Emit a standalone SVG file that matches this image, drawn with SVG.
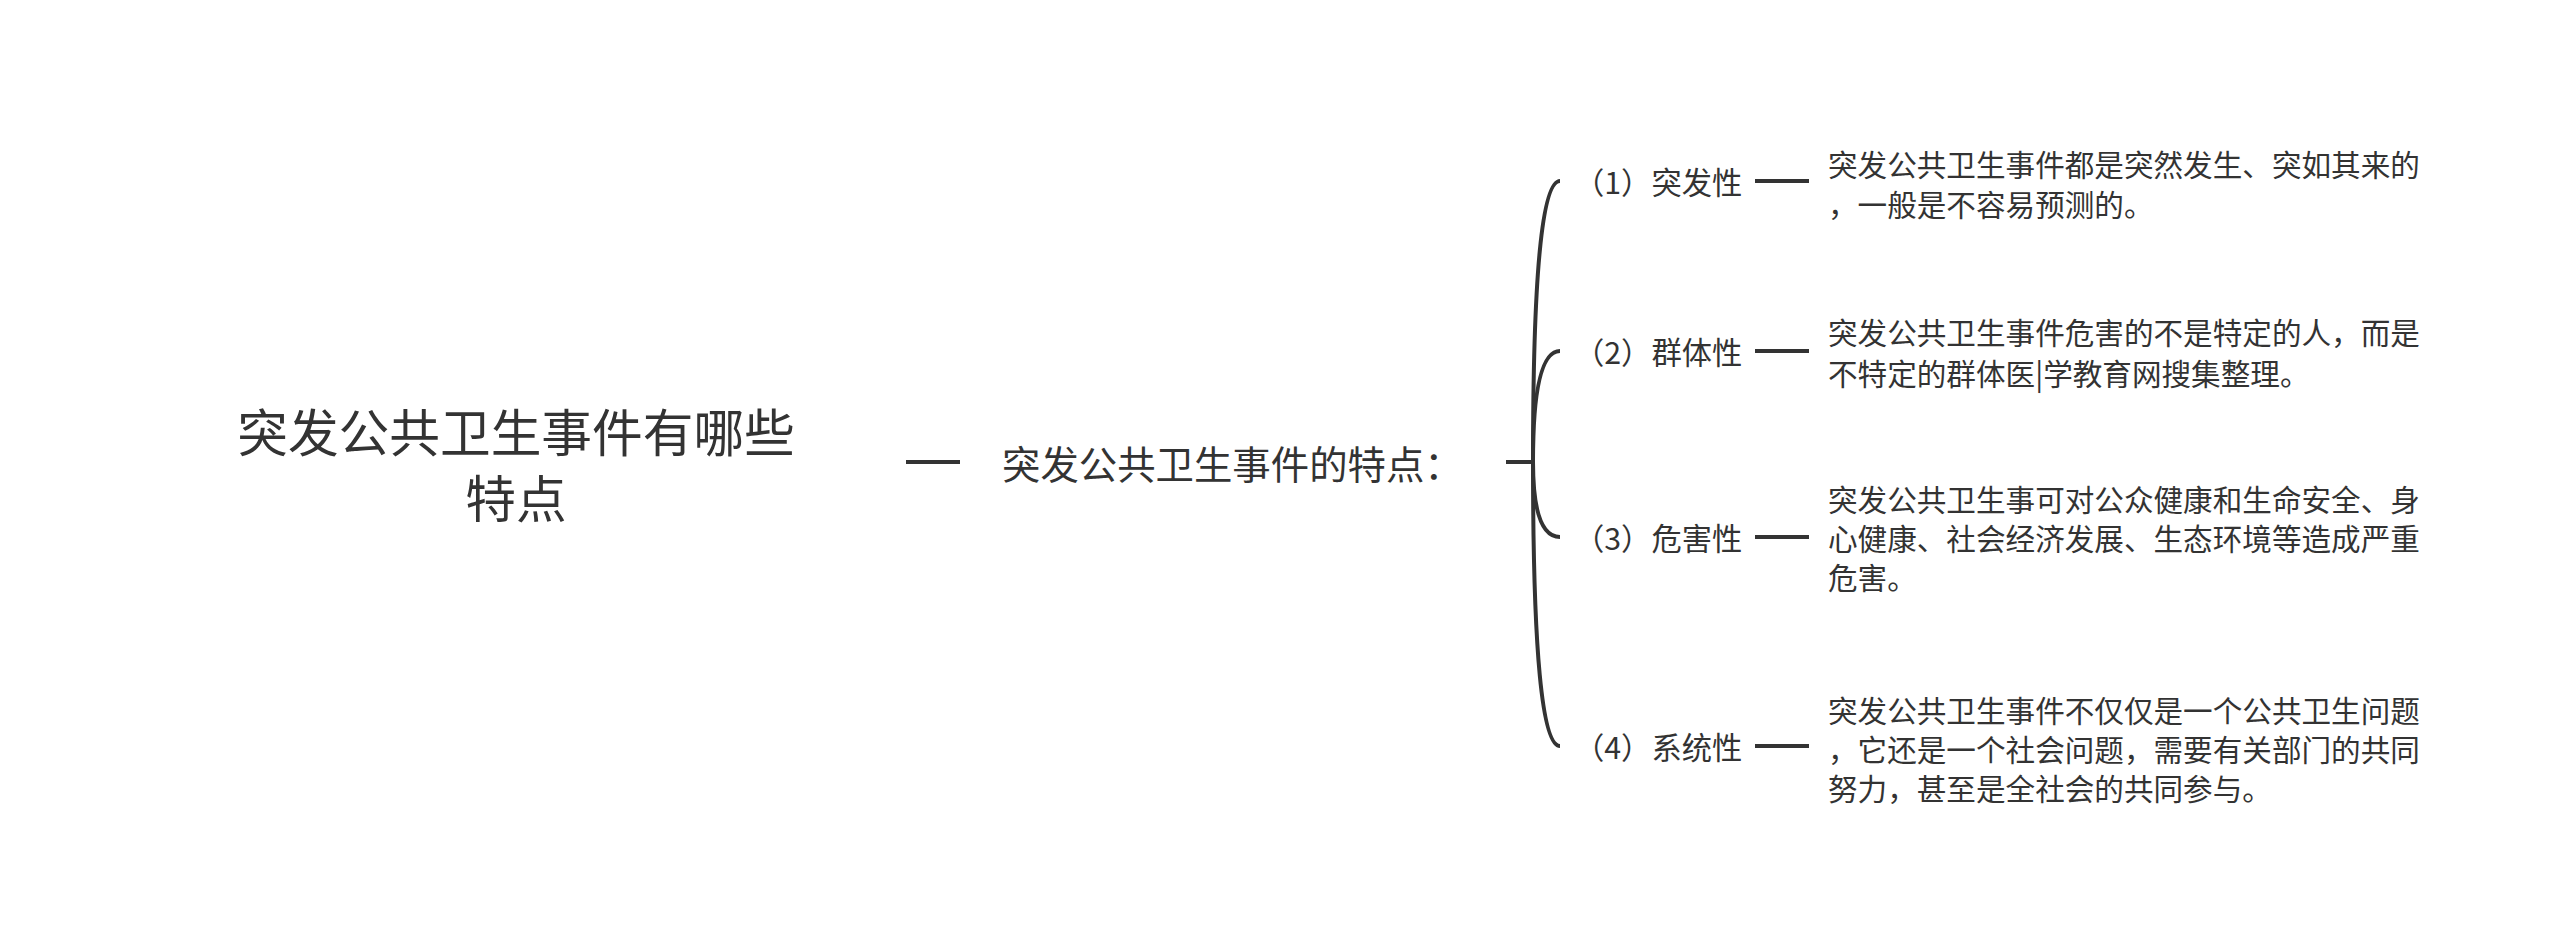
<svg xmlns="http://www.w3.org/2000/svg" width="2560" height="943" viewBox="0 0 2560 943">
<style>
text{font-family:"Noto Sans CJK SC","Noto Sans CJK TC",sans-serif;fill:#333;dominant-baseline:central}
.root{font-size:50.7px}
.main{font-size:38.4px}
.lab{font-size:30.3px}
.desc{font-size:29.6px}
.ln{stroke:#333;stroke-width:4;fill:none;stroke-linecap:butt}
</style>
<rect width="2560" height="943" fill="#fff"/>
<g id="connectors">
<path class="ln" d="M906,462H960"/>
<path class="ln" d="M1506,462H1533"/>
<path class="ln" d="M1533,462Q1533,181 1560,181"/>
<path class="ln" d="M1533,462Q1533,351 1560,351"/>
<path class="ln" d="M1533,462Q1533,537 1560,537"/>
<path class="ln" d="M1533,462Q1533,746 1560,746"/>
<path class="ln" d="M1755,181H1809"/>
<path class="ln" d="M1755,351H1809"/>
<path class="ln" d="M1755,537H1809"/>
<path class="ln" d="M1755,746H1809"/>
</g>
<g id="root"><text class="root" text-anchor="middle"><tspan x="516" y="430">突发公共卫生事件有哪些</tspan><tspan x="516" y="496">特点</tspan></text></g>
<g id="main"><text class="main" x="1002" y="462">突发公共卫生事件的特点：</text></g>
<g id="n1"><text class="lab" x="1574" y="181">（1）突发性</text></g>
<g id="n2"><text class="lab" x="1574" y="351">（2）群体性</text></g>
<g id="n3"><text class="lab" x="1574" y="537">（3）危害性</text></g>
<g id="n4"><text class="lab" x="1574" y="746">（4）系统性</text></g>
<g id="d1"><text class="desc"><tspan x="1828" y="163">突发公共卫生事件都是突然发生、突如其来的</tspan><tspan x="1828" y="203">，一般是不容易预测的。</tspan></text></g>
<g id="d2"><text class="desc"><tspan x="1828" y="331">突发公共卫生事件危害的不是特定的人，而是</tspan><tspan x="1828" y="372">不特定的群体医|学教育网搜集整理。</tspan></text></g>
<g id="d3"><text class="desc"><tspan x="1828" y="498">突发公共卫生事可对公众健康和生命安全、身</tspan><tspan x="1828" y="537">心健康、社会经济发展、生态环境等造成严重</tspan><tspan x="1828" y="576">危害。</tspan></text></g>
<g id="d4"><text class="desc"><tspan x="1828" y="709">突发公共卫生事件不仅仅是一个公共卫生问题</tspan><tspan x="1828" y="748">，它还是一个社会问题，需要有关部门的共同</tspan><tspan x="1828" y="787">努力，甚至是全社会的共同参与。</tspan></text></g>
</svg>
